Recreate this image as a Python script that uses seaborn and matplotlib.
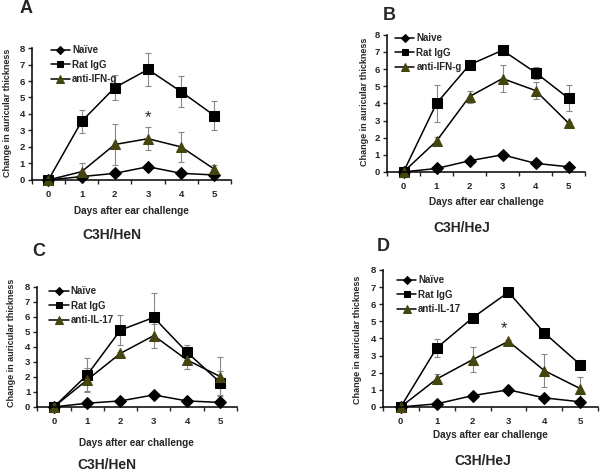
import numpy as np
import matplotlib
matplotlib.use("Agg")
import matplotlib.pyplot as plt
import seaborn as sns

days = [0, 1, 2, 3, 4, 5]

# Panel A (C3H/HeN, anti-IFN-g)
a_naive = [0, 0.2, 0.4, 0.8, 0.4, 0.3]
a_igg = [0, 3.55, 5.6, 6.7, 5.35, 3.9]
a_igg_err = [0, 0.7, 0.75, 1.0, 0.95, 0.9]
a_anti = [0, 0.5, 2.15, 2.5, 2.0, 0.65]
a_anti_err = [0, 0.5, 1.25, 0.7, 0.9, 0.25]

# Panel B (C3H/HeJ, anti-IFN-g)
b_naive = [0, 0.2, 0.65, 1.0, 0.5, 0.3]
b_igg = [0, 4.0, 6.25, 7.1, 5.8, 4.3]
b_igg_err = [0, 1.1, 0.05, 0.25, 0.35, 0.75]
b_anti = [0, 1.8, 4.4, 5.45, 4.75, 2.85]
b_anti_err = [0, 0.25, 0.35, 0.8, 0.5, 0.05]

# Panel C (C3H/HeN, anti-IL-17)
c_naive = [0, 0.25, 0.4, 0.8, 0.4, 0.3]
c_igg = [0, 2.13, 5.12, 5.96, 3.64, 1.62]
c_igg_err = [0, 1.1, 1.0, 1.6, 0.5, 0.8]
c_anti = [0, 1.8, 3.57, 4.75, 3.13, 2.02]
c_anti_err = [0, 0.8, 0.1, 0.8, 0.6, 1.3]

# Panel D (C3H/HeJ, anti-IL-17)
d_naive = [0, 0.18, 0.66, 1.0, 0.53, 0.3]
d_igg = [0, 3.44, 5.2, 6.7, 4.32, 2.47]
d_igg_err = [0, 0.5, 0.05, 0.05, 0.05, 0.05]
d_anti = [0, 1.63, 2.76, 3.83, 2.12, 1.07]
d_anti_err = [0, 0.3, 0.74, 0.05, 0.97, 0.7]

yticks = [0, 1, 2, 3, 4, 5, 6, 7, 8]

sns.set_theme(style="ticks")
plt.rcParams["font.family"] = ["Liberation Sans", "DejaVu Sans"]
plt.rcParams["font.weight"] = "bold"

olive = "#45450f"
fig = plt.figure(figsize=(6, 4.71), dpi=100)

panels = [
    # rect, naive, igg, igg_err, anti, anti_err, naive label, anti label, star, legend anchor
    ([0.053, 0.618, 0.332, 0.280], a_naive, a_igg, a_igg_err, a_anti, a_anti_err,
     "Naïve", "anti-IFN-g", (3, 3.75), (0.095, 1.02)),
    ([0.645, 0.635, 0.330, 0.291], b_naive, b_igg, b_igg_err, b_anti, b_anti_err,
     "Naive", "anti-IFN-g", None, (0.04, 1.01)),
    ([0.062, 0.136, 0.333, 0.255], c_naive, c_igg, c_igg_err, c_anti, c_anti_err,
     "Naïve", "anti-IL-17", None, (0.06, 1.005)),
    ([0.638, 0.136, 0.359, 0.291], d_naive, d_igg, d_igg_err, d_anti, d_anti_err,
     "Naïve", "anti-IL-17", (2.87, 4.55), (0.065, 0.96)),
]

for rect, naive, igg, igg_err, anti, anti_err, nlab, alab, star, anchor in panels:
    ax = fig.add_axes(rect)
    ax.errorbar(days, igg, yerr=igg_err, fmt="none", ecolor="#888888",
                elinewidth=0.8, capsize=2.2, capthick=0.8, zorder=1)
    ax.errorbar(days, anti, yerr=anti_err, fmt="none", ecolor="#888888",
                elinewidth=0.8, capsize=2.2, capthick=0.8, zorder=1)
    sns.lineplot(x=days, y=naive, ax=ax, color="black", marker="D", markersize=6,
                 markeredgecolor="black", linewidth=1.1, label=nlab)
    sns.lineplot(x=days, y=igg, ax=ax, color="black", marker="s", markersize=7,
                 markeredgecolor="black", linewidth=1.1, label="Rat IgG")
    sns.lineplot(x=days, y=anti, ax=ax, color="black", marker="^", markersize=7.5,
                 markerfacecolor=olive, markeredgecolor=olive, linewidth=1.1,
                 label=alab)
    for ln in ax.lines:
        ln.set_clip_on(False)
    ax.set_xlim(-0.5, 5.5)
    ax.set_ylim(0, 8)
    ax.set_yticks(yticks)
    ax.set_xticks(days)
    ax.set_xticks(np.arange(-0.5, 6, 1), minor=True)
    ax.tick_params(axis="x", which="major", length=0, pad=7, labelsize=6.8)
    ax.tick_params(axis="x", which="minor", length=3, width=1, direction="out")
    ax.tick_params(axis="y", length=3, width=1, pad=2, labelsize=6.8)
    for lab in ax.get_xticklabels() + ax.get_yticklabels():
        lab.set_fontweight("bold")
    sns.despine(ax=ax)
    for side in ["left", "bottom"]:
        ax.spines[side].set_linewidth(1.1)
        ax.spines[side].set_color("black")
    ax.set_xlabel("")
    ax.set_ylabel("")
    leg = ax.legend(loc="upper left", bbox_to_anchor=anchor, frameon=False,
                    fontsize=7, handlelength=2.0, handletextpad=0.2,
                    labelspacing=0.45, borderpad=0, borderaxespad=0,
                    markerscale=0.7)
    for t in leg.get_texts():
        t.set_fontweight("bold")
    if star:
        ax.text(star[0], star[1], "*", ha="center", va="center", fontsize=12,
                fontweight="normal")

# Axis labels, panel letters, strain titles
ylab = "Change in auricular thickness"
xlab = "Days after ear challenge"
fig.text(0.012, 0.76, ylab, rotation=90, ha="center", va="center", fontsize=6.5, fontweight="bold")
fig.text(0.607, 0.783, ylab, rotation=90, ha="center", va="center", fontsize=6.5, fontweight="bold")
fig.text(0.02, 0.272, ylab, rotation=90, ha="center", va="center", fontsize=6.5, fontweight="bold")
fig.text(0.595, 0.278, ylab, rotation=90, ha="center", va="center", fontsize=6.5, fontweight="bold")

fig.text(0.219, 0.552, xlab, ha="center", va="center", fontsize=7.2, fontweight="bold")
fig.text(0.81, 0.571, xlab, ha="center", va="center", fontsize=7.2, fontweight="bold")
fig.text(0.227, 0.06, xlab, ha="center", va="center", fontsize=7.2, fontweight="bold")
fig.text(0.818, 0.076, xlab, ha="center", va="center", fontsize=7.2, fontweight="bold")

fig.text(0.043, 0.981, "A", ha="center", va="center", fontsize=13, fontweight="bold")
fig.text(0.648, 0.968, "B", ha="center", va="center", fontsize=13, fontweight="bold")
fig.text(0.065, 0.465, "C", ha="center", va="center", fontsize=13, fontweight="bold")
fig.text(0.638, 0.476, "D", ha="center", va="center", fontsize=13, fontweight="bold")

fig.text(0.187, 0.501, "C3H/HeN", ha="center", va="center", fontsize=10, fontweight="bold")
fig.text(0.77, 0.516, "C3H/HeJ", ha="center", va="center", fontsize=10, fontweight="bold")
fig.text(0.178, 0.013, "C3H/HeN", ha="center", va="center", fontsize=10, fontweight="bold")
fig.text(0.805, 0.021, "C3H/HeJ", ha="center", va="center", fontsize=10, fontweight="bold")

fig.savefig("out.png", dpi=100, facecolor="white")
